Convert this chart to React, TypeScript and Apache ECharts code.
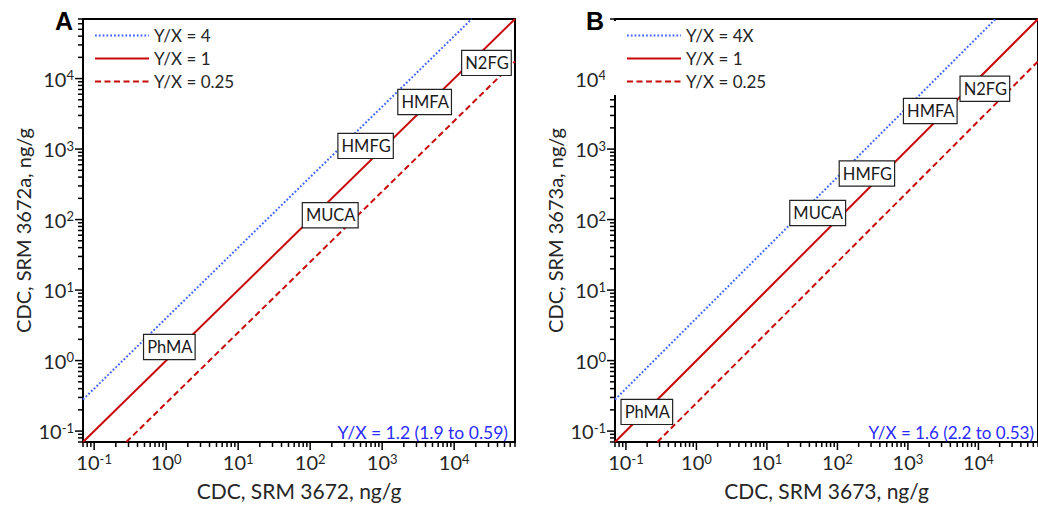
import React, { useEffect, useRef } from 'react';
import * as echarts from 'echarts';

// Axis extent (both axes, both panels)
const AXIS_MIN = 0.07;
const AXIS_MAX = 70000;
const DECADES = [-2, -1, 0, 1, 2, 3, 4];
const MINOR_STEPS = [2, 3, 4, 5, 6, 7, 8, 9];

// Reference lines (end points)
const LINE_4X = [[0.07, 0.28], [17500, 70000]];
const LINE_1X = [[0.07, 0.07], [70000, 70000]];
const LINE_025X = [[0.28, 0.07], [70000, 17500]];

// Compound labels
const COMPOUNDS = ['PhMA', 'MUCA', 'HMFG', 'HMFA', 'N2FG'];
const A_X = [1.107, 190, 589, 3890, 28100];
const A_Y = [1.56, 115, 1110, 4660, 16700];
const B_X = [0.198, 52.5, 262, 2075, 12340];
const B_Y = [0.187, 124, 450, 3460, 7180];

const A_SUMMARY = 'Y/X = 1.2 (1.9 to 0.59)';
const B_SUMMARY = 'Y/X = 1.6 (2.2 to 0.53)';

const FONT = 'Lato';
const TXT = '#262626';
const RED = '#c80a0a';
const BLUE = '#3f63ff';

function buildTicks() {
  const out: number[][] = [];
  for (const d of DECADES) {
    for (const k of [1, ...MINOR_STEPS]) {
      const v = k * Math.pow(10, d);
      if (v >= AXIS_MIN * 0.999 && v <= AXIS_MAX * 1.001) {
        const major = k === 1;
        out.push([v, AXIS_MIN, major ? 0 : 1]);
        out.push([AXIS_MIN, v, major ? 2 : 3]);
      }
    }
  }
  return out;
}

const labelFormatter = (v: number) => {
  const lg = Math.log10(v);
  const e = Math.round(lg);
  if (Math.abs(lg - e) > 0.01) return '';
  return `{b|10}{s|${e}}`;
};

const richLabel = {
  b: { fontSize: 20, fontFamily: FONT, color: TXT },
  s: { fontSize: 13, fontFamily: FONT, color: TXT, verticalAlign: 'top', lineHeight: 11 },
};

function makeAxis(name: string, gridIndex: number, isY: boolean) {
  return {
    type: 'log',
    logBase: 10,
    gridIndex,
    min: AXIS_MIN,
    max: AXIS_MAX,
    name,
    nameLocation: 'middle',
    nameGap: isY ? 50 : 38,
    nameTextStyle: { fontSize: isY ? 20 : 21, fontFamily: FONT, color: TXT },
    axisLine: { show: true, lineStyle: { color: '#000', width: 2 } },
    axisTick: { show: false },
    minorTick: { show: false },
    splitLine: { show: false },
    axisLabel: {
      show: true,
      margin: isY ? 9 : 10,
      formatter: labelFormatter,
      rich: richLabel,
      showMinLabel: false,
      showMaxLabel: false,
      hideOverlap: false,
    },
  };
}

function lineSeries(name: string, data: number[][], idx: number, style: any) {
  return {
    type: 'line',
    name,
    xAxisIndex: idx,
    yAxisIndex: idx,
    data,
    symbol: 'none',
    lineStyle: style,
    itemStyle: { color: style.color },
    z: 3,
  };
}

function labelSeries(xs: number[], ys: number[], idx: number) {
  return {
    type: 'scatter',
    name: '_labels' + idx,
    xAxisIndex: idx,
    yAxisIndex: idx,
    symbolSize: 1,
    itemStyle: { color: 'rgba(0,0,0,0)', opacity: 1 },
    data: COMPOUNDS.map((n, i) => ({ name: n, value: [xs[i], ys[i]] })),
    label: {
      show: true,
      position: 'inside',
      formatter: '{b}',
      fontSize: 16.5,
      fontFamily: FONT,
      color: '#1a1a1a',
      opacity: 1,
      backgroundColor: '#fff',
      borderColor: '#222',
      borderWidth: 1.2,
      padding: [4, 2, 3, 3],
    },
    z: 10,
  };
}

function tickSeries(idx: number) {
  return {
    type: 'custom',
    name: '_ticks' + idx,
    xAxisIndex: idx,
    yAxisIndex: idx,
    clip: false,
    silent: true,
    encode: { x: 0, y: 1 },
    data: buildTicks(),
    renderItem: (params: any, api: any) => {
      const kind = api.value(2);
      const p = api.coord([api.value(0), api.value(1)]);
      const len = kind % 2 === 0 ? 8 : 5;
      const style = { stroke: '#000', lineWidth: 1.5 };
      if (kind < 2) {
        return { type: 'line', shape: { x1: p[0], y1: p[1], x2: p[0], y2: p[1] + len }, style };
      }
      return { type: 'line', shape: { x1: p[0] - len, y1: p[1], x2: p[0], y2: p[1] }, style };
    },
  };
}

const dotted = { color: BLUE, width: 2, type: [1.8, 2] };
const solid = { color: RED, width: 2, type: 'solid' };
const dashed = { color: RED, width: 2, type: [6, 3.5] };

export default function App() {
  const ref = useRef<HTMLDivElement>(null);
  useEffect(() => {
    if (!ref.current) return;
    const chart = echarts.init(ref.current, undefined, { renderer: 'svg' });
    const legendCommon = {
      orient: 'vertical',
      top: 27,
      padding: 0,
      itemWidth: 54,
      itemHeight: 14,
      itemGap: 6,
      itemStyle: { opacity: 0 },
      textStyle: { fontSize: 17, fontFamily: FONT, color: TXT },
      z: 60,
    };
    chart.setOption({
      animation: false,
      backgroundColor: '#fff',
      grid: [
        { left: 83, top: 19, width: 432, height: 425, show: true, borderColor: '#000', borderWidth: 2, backgroundColor: 'transparent' },
        { left: 615, top: 19, width: 432, height: 425, show: true, borderColor: '#000', borderWidth: 2, backgroundColor: 'transparent' },
      ],
      xAxis: [makeAxis('CDC, SRM 3672, ng/g', 0, false), makeAxis('CDC, SRM 3673, ng/g', 1, false)],
      yAxis: [makeAxis('CDC, SRM 3672a, ng/g', 0, true), makeAxis('CDC, SRM 3673a, ng/g', 1, true)],
      legend: [
        { ...legendCommon, left: 94, data: ['Y/X = 4', 'Y/X = 1', 'Y/X = 0.25'] },
        { ...legendCommon, left: 626, data: ['Y/X = 4X', 'Y/X = 1', 'Y/X = 0.25'] },
      ],
      series: [
        lineSeries('Y/X = 4', LINE_4X, 0, dotted),
        lineSeries('Y/X = 1', LINE_1X, 0, solid),
        lineSeries('Y/X = 0.25', LINE_025X, 0, dashed),
        lineSeries('Y/X = 4X', LINE_4X, 1, dotted),
        lineSeries('Y/X = 1', LINE_1X, 1, solid),
        lineSeries('Y/X = 0.25', LINE_025X, 1, dashed),
        labelSeries(A_X, A_Y, 0),
        labelSeries(B_X, B_Y, 1),
        tickSeries(0),
        tickSeries(1),
      ],
      graphic: [
        { type: 'rect', z: 50, shape: { x: 605, y: 21, width: 175, height: 74 }, style: { fill: '#fff' } },
        { type: 'text', z: 60, x: 55, y: 8, style: { text: 'A', font: 'bold 25px "Liberation Sans"', fill: '#000' } },
        { type: 'text', z: 60, x: 586, y: 8, style: { text: 'B', font: 'bold 25px "Liberation Sans"', fill: '#000' } },
        { type: 'text', z: 60, x: 508, y: 432, style: { text: A_SUMMARY, font: `17.5px ${FONT}`, fill: '#2b2bff', textAlign: 'right', textVerticalAlign: 'middle' } },
        { type: 'text', z: 60, x: 1034, y: 432, style: { text: B_SUMMARY, font: `17px ${FONT}`, fill: '#2b2bff', textAlign: 'right', textVerticalAlign: 'middle' } },
      ],
    });
    return () => chart.dispose();
  }, []);
  return <div ref={ref} style={{ position: 'absolute', left: 0, top: 0, width: 1038, height: 506 }} />;
}
